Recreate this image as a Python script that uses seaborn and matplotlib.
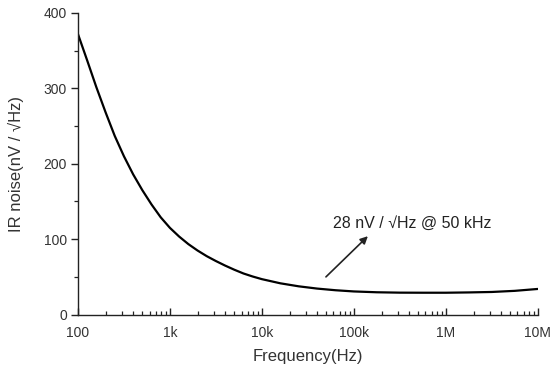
import matplotlib
matplotlib.use("Agg")
import matplotlib.pyplot as plt
import seaborn as sns
import pandas as pd
from matplotlib.ticker import FixedLocator, NullFormatter, MultipleLocator, LogLocator

sns.set_theme(style="ticks")
plt.rcParams['font.family'] = ['Liberation Sans', 'DejaVu Sans']

freq_hz = [100, 126, 158, 200, 251, 316, 398, 501, 631, 794,
           1000, 1259, 1585, 1995, 2512, 3162, 3981, 5012, 6310, 7943,
           10000, 15849, 25119, 39811, 63096, 100000, 177828, 316228,
           562341, 1000000, 1778279, 3162278, 5623413, 10000000]
noise = [372, 337, 302, 268, 237, 210, 186, 165, 146, 129,
         115, 103.5, 93.5, 85, 77.5, 71, 65, 59.5, 54.5, 50.5,
         47, 41.5, 37.5, 34.5, 32.3, 30.7, 29.6, 29.1,
         29, 29, 29.4, 30, 31.5, 34]
xtick_vals = [100, 1000, 10000, 100000, 1000000, 10000000]
xtick_labels = ["100", "1k", "10k", "100k", "1M", "10M"]
ytick_vals = [0, 100, 200, 300, 400]
annot_text = "28 nV / \u221aHz @ 50 kHz"

df = pd.DataFrame({"freq": freq_hz, "noise": noise})

fig = plt.figure(figsize=(5.55, 3.67), dpi=100)
ax = fig.add_axes([0.1405, 0.1428, 0.8285, 0.8218])
sns.lineplot(data=df, x="freq", y="noise", ax=ax, color="black", linewidth=1.6)
ax.set_xscale("log")
ax.set_xlim(100, 1e7)
ax.set_ylim(0, 400)

txt_col = "#333333"
ax.xaxis.set_major_locator(FixedLocator(xtick_vals))
ax.set_xticklabels(xtick_labels)
ax.xaxis.set_minor_locator(LogLocator(base=10, subs=range(2, 10)))
ax.xaxis.set_minor_formatter(NullFormatter())
ax.yaxis.set_major_locator(FixedLocator(ytick_vals))
ax.yaxis.set_minor_locator(MultipleLocator(50))

ax.tick_params(axis="both", which="major", labelsize=10, colors="#222222",
               labelcolor=txt_col, width=1.0, length=5)
ax.tick_params(axis="both", which="minor", colors="#222222", width=0.9, length=3)
ax.tick_params(axis="x", which="both", direction="in", pad=8)
ax.tick_params(axis="y", which="both", direction="out", pad=3)

for s in ["top", "right"]:
    ax.spines[s].set_visible(False)
for s in ["left", "bottom"]:
    ax.spines[s].set_color("#222222")
    ax.spines[s].set_linewidth(1.0)

ax.set_xlabel("Frequency(Hz)", fontsize=12, color=txt_col, labelpad=7)
ax.set_ylabel("IR noise(nV / \u221aHz)", fontsize=12, color=txt_col, labelpad=14)

ax.annotate("", xy=(142000, 104), xytext=(49700, 50),
            arrowprops=dict(arrowstyle="-|>", color="#222222", lw=1.2,
                            mutation_scale=11, shrinkA=0, shrinkB=0))
ax.text(59000, 121, annot_text, fontsize=11.5, color="#222222", va="center", ha="left")

fig.savefig("out.png", dpi=100)
